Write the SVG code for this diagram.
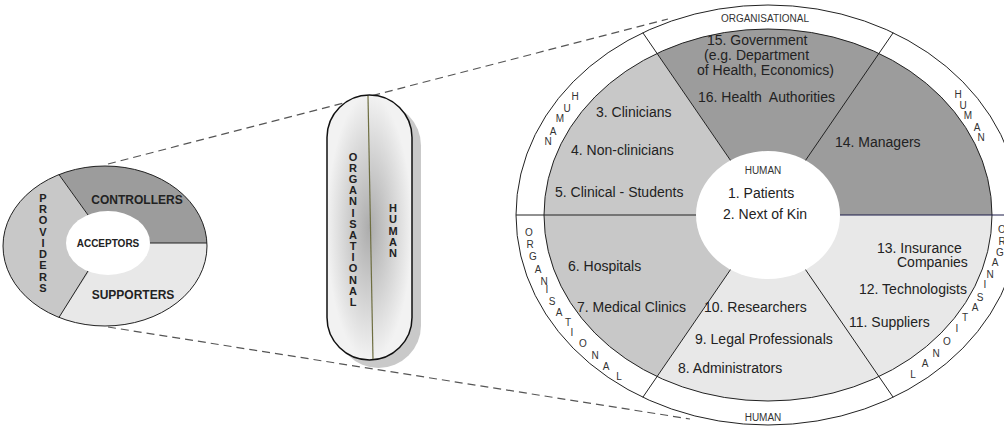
<svg xmlns="http://www.w3.org/2000/svg" width="1004" height="426" viewBox="0 0 1004 426">
<style>
.t{font-family:"Liberation Sans",Arial,sans-serif;font-size:14px;fill:#222}
.b{font-family:"Liberation Sans",Arial,sans-serif;font-weight:bold;fill:#222;text-anchor:middle}
.r{font-family:"Liberation Sans",Arial,sans-serif;font-size:10px;fill:#333;text-anchor:middle}
.ln{stroke:#222;stroke-width:1;fill:none}
.dash{stroke:#555;stroke-width:1.2;fill:none;stroke-dasharray:8 5}
.dk{fill:#9c9c9c}
.md{fill:#c8c8c8}
.lt{fill:#e8e8e8}
</style>
<defs>
<radialGradient id="pg" cx="50%" cy="50%" r="50%">
<stop offset="0" stop-color="#acacac"/>
<stop offset="0.6" stop-color="#d6d6d6"/>
<stop offset="1" stop-color="#f2f2f2"/>
</radialGradient>
</defs>
<rect width="1004" height="426" fill="#fff"/>

<g id="connectors">
<line class="dash" x1="108" y1="164" x2="668" y2="19"/>
<line class="dash" x1="108" y1="327" x2="690" y2="419"/>
</g>

<g id="small-circle">
<path class="dk" d="M108,243 L59,174.6 A102,80 0 0,1 206.9,243 Z"/>
<path class="lt" d="M108,243 L206.9,243 A102,80 0 0,1 59,317.4 Z"/>
<path class="md" d="M108,243 L59,317.4 A102,80 0 0,1 59,174.6 Z"/>
<ellipse class="ln" cx="105" cy="246" rx="102" ry="80"/>
<line class="ln" x1="59" y1="174.6" x2="88" y2="215"/>
<line class="ln" x1="59" y1="317.4" x2="88" y2="271"/>
<line class="ln" x1="148" y1="243" x2="206.9" y2="243"/>
<ellipse cx="108" cy="243" rx="42" ry="32" fill="#fff"/>
<text class="b" x="137" y="204" font-size="12">CONTROLLERS</text>
<text class="b" x="108" y="247" font-size="10">ACCEPTORS</text>
<text class="b" x="133" y="299" font-size="12">SUPPORTERS</text>
<g class="b" font-size="11">
<text x="43" y="202">P</text><text x="43" y="213">R</text><text x="43" y="224">O</text><text x="43" y="236">V</text><text x="43" y="247">I</text><text x="43" y="258">D</text><text x="43" y="269">E</text><text x="43" y="281">R</text><text x="43" y="292">S</text>
</g>
</g>

<g id="pill">
<rect x="336" y="103" width="85" height="265" rx="42.5" fill="#c9c9c9"/>
<rect x="327" y="95" width="85" height="265" rx="42.5" fill="url(#pg)" stroke="#111" stroke-width="1.5"/>
<line x1="368" y1="96" x2="373" y2="359" stroke="#6e6e40" stroke-width="1.2"/>
<g class="b" font-size="11">
<text x="353" y="161">O</text><text x="353" y="172">R</text><text x="353" y="183">G</text><text x="353" y="194">A</text><text x="353" y="205">N</text><text x="353" y="217">I</text><text x="353" y="228">S</text><text x="353" y="239">A</text><text x="353" y="250">T</text><text x="353" y="261">I</text><text x="353" y="272">O</text><text x="353" y="284">N</text><text x="353" y="295">A</text><text x="353" y="306">L</text>
<text x="393" y="212">H</text><text x="393" y="223">U</text><text x="393" y="235">M</text><text x="393" y="246">A</text><text x="393" y="257">N</text>
</g>
</g>

<g id="big-circle">
<ellipse cx="768" cy="215" rx="252" ry="210" fill="#fff" stroke="#222" stroke-width="1"/>
<path class="dk" d="M768,215 L657,53.4 A224,186 0 0,1 992,215 Z"/>
<path class="md" d="M768,215 L657,376.6 A224,186 0 0,1 657,53.4 Z"/>
<path class="lt" d="M768,215 L992,215 A224,186 0 0,1 657,376.6 Z"/>
<ellipse class="ln" cx="768" cy="215" rx="224" ry="186"/>
<line class="ln" x1="642.8" y1="32.7" x2="768" y2="215"/>
<line class="ln" x1="893.2" y1="32.7" x2="768" y2="215"/>
<line class="ln" x1="642.8" y1="397.3" x2="768" y2="215"/>
<line class="ln" x1="893.2" y1="397.3" x2="768" y2="215"/>
<line class="ln" x1="516" y1="215" x2="768" y2="215"/>
<line x1="768" y1="215" x2="1004" y2="215" stroke="#1a1a48" stroke-width="1.2"/>
<ellipse cx="768" cy="215" rx="72" ry="64" fill="#fff"/>
</g>

<g id="ring-labels">
<text class="r" x="765" y="22" font-size="10.5">ORGANISATIONAL</text>
<text class="r" x="763" y="421" font-size="10.5">HUMAN</text>
<text x="575" y="100" class="r">H</text><text x="567" y="112" class="r">U</text><text x="560" y="122" class="r">M</text><text x="553" y="135" class="r">A</text><text x="548" y="145" class="r">N</text>
<text x="958" y="98" class="r">H</text><text x="963" y="109" class="r">U</text><text x="968" y="119" class="r">M</text><text x="977" y="131" class="r">A</text><text x="981" y="141" class="r">N</text>
<text x="529" y="236" class="r">O</text><text x="530" y="248" class="r">R</text><text x="533" y="260" class="r">G</text><text x="538" y="273" class="r">A</text><text x="544" y="285" class="r">N</text><text x="547" y="293" class="r">I</text><text x="552" y="305" class="r">S</text><text x="559" y="316" class="r">A</text><text x="568" y="326" class="r">T</text><text x="572" y="336" class="r">I</text><text x="583" y="347" class="r">O</text><text x="595" y="359" class="r">N</text><text x="606" y="370" class="r">A</text><text x="619" y="380" class="r">L</text>
<text x="1002" y="233" class="r">O</text><text x="1002" y="245" class="r">R</text><text x="1000" y="256" class="r">G</text><text x="995" y="266" class="r">A</text><text x="990" y="278" class="r">N</text><text x="985" y="288" class="r">I</text><text x="980" y="301" class="r">S</text><text x="975" y="311" class="r">A</text><text x="965" y="321" class="r">T</text><text x="957" y="332" class="r">I</text><text x="947" y="345" class="r">O</text><text x="936" y="357" class="r">N</text><text x="925" y="367" class="r">A</text><text x="913" y="378" class="r">L</text>
</g>

<g id="controllers-labels">
<text class="t" x="707" y="45">15. Government</text>
<text class="t" x="704" y="60">(e.g. Department</text>
<text class="t" x="697" y="75">of Health, Economics)</text>
<text class="t" x="698" y="102" xml:space="preserve">16. Health  Authorities</text>
<text class="t" x="835" y="147">14. Managers</text>
</g>
<g id="providers-labels">
<text class="t" x="596" y="117">3. Clinicians</text>
<text class="t" x="571" y="155">4. Non-clinicians</text>
<text class="t" x="555" y="197">5. Clinical - Students</text>
<text class="t" x="568" y="271">6. Hospitals</text>
<text class="t" x="577" y="312">7. Medical Clinics</text>
</g>
<g id="acceptors-labels">
<text class="r" x="763" y="174" font-size="10">HUMAN</text>
<text class="t" x="728" y="198">1. Patients</text>
<text class="t" x="723" y="219">2. Next of Kin</text>
</g>
<g id="supporters-labels">
<text class="t" x="704" y="312">10. Researchers</text>
<text class="t" x="695" y="344">9. Legal Professionals</text>
<text class="t" x="678" y="373">8. Administrators</text>
<text class="t" x="877" y="253">13. Insurance</text>
<text class="t" x="897" y="267">Companies</text>
<text class="t" x="859" y="294">12. Technologists</text>
<text class="t" x="849" y="327">11. Suppliers</text>
</g>
</svg>
